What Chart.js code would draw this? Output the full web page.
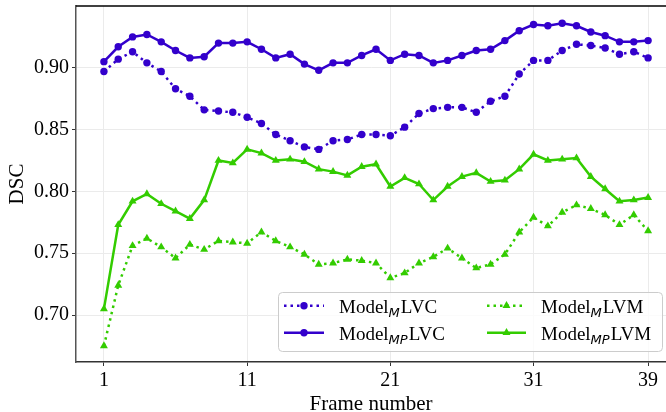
<!DOCTYPE html>
<html>
<head>
<meta charset="utf-8">
<script src="https://cdn.jsdelivr.net/npm/chart.js@4"></script>
<style>
  html, body { margin: 0; padding: 0; background: #fff; }
  canvas { display: block; }
</style>
</head>
<body>
<canvas id="dscChart" width="666" height="412"></canvas>
<script>
// ============================================================
// Data
// ============================================================
const frames = [1, 2, 3, 4, 5, 6, 7, 8, 9, 10, 11, 12, 13, 14, 15, 16, 17, 18, 19, 20,
                21, 22, 23, 24, 25, 26, 27, 28, 29, 30, 31, 32, 33, 34, 35, 36, 37, 38, 39];

const modelM_LVC = [0.897, 0.907, 0.913, 0.904, 0.897, 0.883, 0.877, 0.866, 0.865, 0.864,
                    0.860, 0.855, 0.846, 0.841, 0.836, 0.834, 0.841, 0.842, 0.846, 0.846,
                    0.845, 0.852, 0.863, 0.867, 0.868, 0.868, 0.864, 0.873, 0.877, 0.895,
                    0.906, 0.906, 0.914, 0.919, 0.918, 0.916, 0.911, 0.913, 0.908];

const modelMP_LVC = [0.905, 0.917, 0.925, 0.927, 0.921, 0.914, 0.908, 0.909, 0.920, 0.920,
                     0.921, 0.915, 0.908, 0.911, 0.903, 0.898, 0.904, 0.904, 0.910, 0.915,
                     0.906, 0.911, 0.910, 0.904, 0.906, 0.910, 0.914, 0.915, 0.922, 0.930,
                     0.935, 0.934, 0.936, 0.934, 0.929, 0.926, 0.921, 0.921, 0.922];

const modelM_LVM = [0.675, 0.724, 0.756, 0.762, 0.755, 0.746, 0.757, 0.753, 0.760, 0.759,
                    0.758, 0.767, 0.760, 0.755, 0.749, 0.741, 0.742, 0.745, 0.744, 0.742,
                    0.730, 0.734, 0.742, 0.747, 0.754, 0.746, 0.738, 0.741, 0.749, 0.767,
                    0.779, 0.772, 0.783, 0.789, 0.786, 0.781, 0.773, 0.781, 0.768];

const modelMP_LVM = [0.705, 0.773, 0.792, 0.798, 0.790, 0.784, 0.778, 0.793, 0.825, 0.823,
                     0.834, 0.831, 0.825, 0.826, 0.824, 0.818, 0.816, 0.813, 0.820, 0.822,
                     0.804, 0.811, 0.806, 0.793, 0.804, 0.812, 0.815, 0.808, 0.809, 0.818,
                     0.830, 0.825, 0.826, 0.827, 0.812, 0.802, 0.792, 0.793, 0.795];

const xTicks = [1, 11, 21, 31, 39];
const yTicks = [0.70, 0.75, 0.80, 0.85, 0.90];

const BLUE = "#3300cc";
const GREEN = "#33cc00";
const SERIF = '"Liberation Serif", "Times New Roman", serif';

// ============================================================
// Helpers
// ============================================================
const toPoints = (values) => values.map((v, i) => ({ x: frames[i], y: v }));

function makeDataset(label, values, color, dotted, style) {
    return {
        label: label,
        data: toPoints(values),
        borderColor: color,
        backgroundColor: color,
        borderWidth: 2.5,
        borderDash: dotted ? [2.5, 4] : [],
        pointStyle: style,
        pointRadius: style === "triangle" ? 4.6 : 3.7,
        pointBorderWidth: 0,
        pointBackgroundColor: color,
        tension: 0,
        fill: false
    };
}

// legend entries, drawn in two columns inside the plot
const legendEntries = [
    { base: "Model", sub: "M",  tail: "LVC", color: BLUE,  dotted: true,  style: "circle" },
    { base: "Model", sub: "MP", tail: "LVC", color: BLUE,  dotted: false, style: "circle" },
    { base: "Model", sub: "M",  tail: "LVM", color: GREEN, dotted: true,  style: "triangle" },
    { base: "Model", sub: "MP", tail: "LVM", color: GREEN, dotted: false, style: "triangle" }
];

function drawMarker(ctx, style, x, y, color) {
    ctx.fillStyle = color;
    ctx.beginPath();
    if (style === "circle") {
        ctx.arc(x, y, 3.7, 0, Math.PI * 2);
    } else {
        const r = 4.6;
        for (let k = 0; k < 3; k++) {
            const a = k * 2 * Math.PI / 3;
            const px = x + Math.sin(a) * r;
            const py = y - Math.cos(a) * r;
            if (k === 0) ctx.moveTo(px, py); else ctx.lineTo(px, py);
        }
        ctx.closePath();
    }
    ctx.fill();
}

// no extra edge padding for tick labels (matplotlib-style frame)
function noEdgePadding(s) {
    s.paddingTop = 0;
    s.paddingBottom = 0;
    s.paddingLeft = 0;
    s.paddingRight = 0;
}

// ============================================================
// Plugin: top frame line + inner legend with subscripts
// ============================================================
const framePlugin = {
    id: "frameAndLegend",
    afterDraw(chart) {
        const ctx = chart.ctx;
        const area = chart.chartArea;

        ctx.save();
        // top spine
        ctx.strokeStyle = "#000";
        ctx.lineWidth = 1.5;
        ctx.beginPath();
        ctx.moveTo(area.left, area.top);
        ctx.lineTo(area.right, area.top);
        ctx.stroke();

        // legend box
        const bx = 278, by = 292, bw = 384, bh = 59, rad = 4;
        ctx.fillStyle = "rgba(255,255,255,0.8)";
        ctx.strokeStyle = "#cccccc";
        ctx.lineWidth = 1;
        ctx.beginPath();
        ctx.roundRect(bx + 0.5, by + 0.5, bw, bh, rad);
        ctx.fill();
        ctx.stroke();

        const cols = [{ l0: 284, l1: 324, tx: 339 }, { l0: 487, l1: 526, tx: 541 }];
        const rows = [305.7, 332.7];

        legendEntries.forEach((e, i) => {
            const col = cols[Math.floor(i / 2)];
            const cy = rows[i % 2];

            ctx.strokeStyle = e.color;
            ctx.lineWidth = 2.5;
            ctx.setLineDash(e.dotted ? [2.5, 4] : []);
            ctx.beginPath();
            ctx.moveTo(col.l0, cy);
            ctx.lineTo(col.l1, cy);
            ctx.stroke();
            ctx.setLineDash([]);
            drawMarker(ctx, e.style, (col.l0 + col.l1) / 2, cy, e.color);

            ctx.fillStyle = "#000";
            ctx.textBaseline = "alphabetic";
            ctx.textAlign = "left";
            let x = col.tx;
            const base = cy + 7;
            ctx.font = "19px " + SERIF;
            ctx.fillText(e.base, x, base);
            x += ctx.measureText(e.base).width;
            ctx.font = 'italic 13px "DejaVu Sans", sans-serif';
            ctx.fillText(e.sub, x, base + 4);
            x += ctx.measureText(e.sub).width + 1;
            ctx.font = "19px " + SERIF;
            ctx.fillText(e.tail, x, base);
        });
        ctx.restore();
    }
};

// ============================================================
// Render chart
// ============================================================
const tickFont = { family: SERIF, size: 20 };

new Chart(document.getElementById("dscChart"), {
    type: "line",
    data: {
        datasets: [
            makeDataset("ModelM LVC", modelM_LVC, BLUE, true, "circle"),
            makeDataset("ModelMP LVC", modelMP_LVC, BLUE, false, "circle"),
            makeDataset("ModelM LVM", modelM_LVM, GREEN, true, "triangle"),
            makeDataset("ModelMP LVM", modelMP_LVM, GREEN, false, "triangle")
        ]
    },
    options: {
        responsive: false,
        animation: false,
        devicePixelRatio: 1,
        layout: { autoPadding: false, padding: { top: 6, right: 0, left: 0, bottom: 0 } },
        scales: {
            x: {
                type: "linear",
                min: -0.95,
                max: 40.25,
                afterBuildTicks: (s) => { s.ticks = xTicks.map(v => ({ value: v })); },
                afterFit: (s) => { s.height = 50; noEdgePadding(s); },
                ticks: { font: tickFont, color: "#000", padding: 3, maxRotation: 0, autoSkip: false },
                grid: { color: "#ebebeb", lineWidth: 1, tickLength: 4, tickColor: "#333" },
                border: { color: "#333", width: 1.5 },
                title: {
                    display: true,
                    text: "Frame number",
                    font: { family: SERIF, size: 21, lineHeight: 1 },
                    color: "#000",
                    padding: { top: 0, bottom: -3 }
                }
            },
            y: {
                min: 0.662,
                max: 0.95,
                afterBuildTicks: (s) => { s.ticks = yTicks.map(v => ({ value: v })); },
                afterFit: (s) => { s.width = 76; noEdgePadding(s); },
                ticks: {
                    font: tickFont,
                    color: "#000",
                    padding: 3,
                    callback: (v) => v.toFixed(2)
                },
                grid: { color: "#ebebeb", lineWidth: 1, tickLength: 4, tickColor: "#333" },
                border: { color: "#555", width: 1.5 },
                title: {
                    display: true,
                    text: "DSC",
                    font: { family: SERIF, size: 21, lineHeight: 1 },
                    color: "#000",
                    padding: { top: 7, bottom: 0 }
                }
            }
        },
        plugins: {
            legend: { display: false },
            tooltip: { enabled: false }
        }
    },
    plugins: [framePlugin]
});
</script>
</body>
</html>
